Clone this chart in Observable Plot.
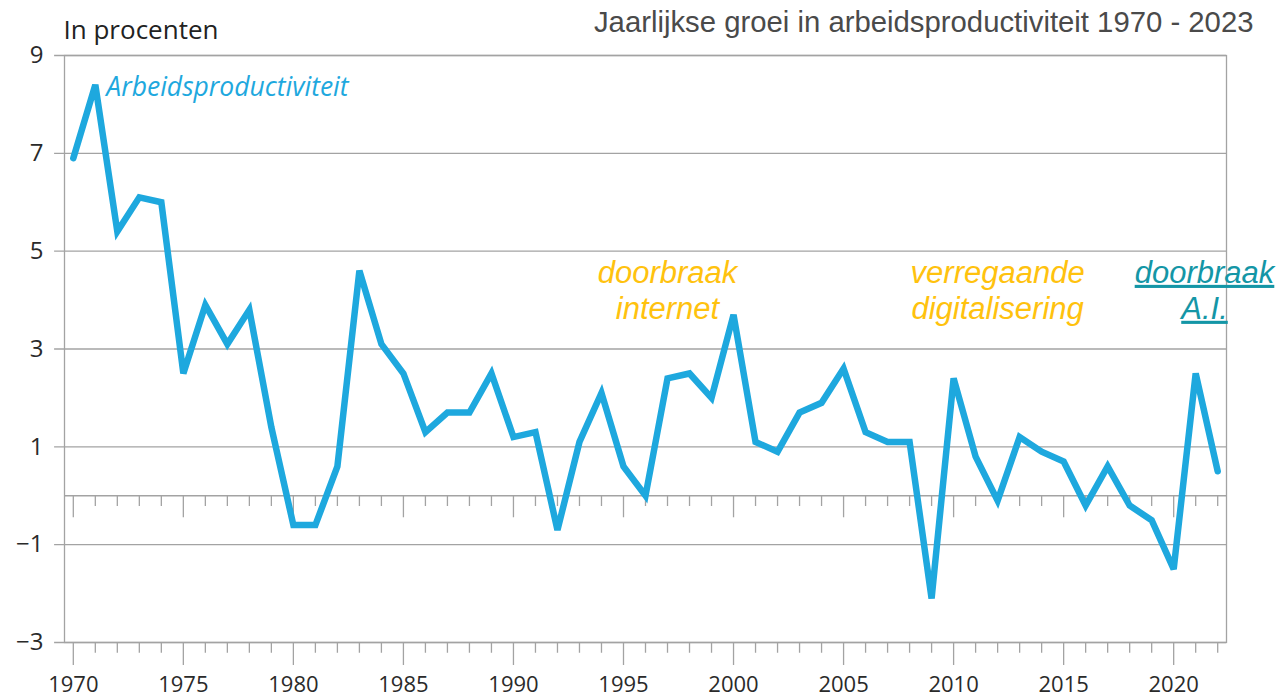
<!DOCTYPE html>
<html>
<head>
<meta charset="utf-8">
<script src="https://cdn.jsdelivr.net/npm/d3@7"></script>
<script src="https://cdn.jsdelivr.net/npm/@observablehq/plot@0.6"></script>
<style>
  html, body { margin: 0; padding: 0; background: #fff; }
  #chart { width: 1280px; height: 698px; overflow: hidden; }
</style>
</head>
<body>
<div id="chart"></div>
<script>
// ---- data ----
const years = d3.range(1970, 2023);
const growth = [
  6.9, 8.4, 5.4, 6.1, 6.0, 2.5, 3.9, 3.1, 3.8, 1.4,
  -0.6, -0.6, 0.6, 4.6, 3.1, 2.5, 1.3, 1.7, 1.7, 2.5,
  1.2, 1.3, -0.7, 1.1, 2.1, 0.6, 0.0, 2.4, 2.5, 2.0,
  3.7, 1.1, 0.9, 1.7, 1.9, 2.6, 1.3, 1.1, 1.1, -2.1,
  2.4, 0.8, -0.1, 1.2, 0.9, 0.7, -0.2, 0.6, -0.2, -0.5,
  -1.5, 2.5, 0.5
];
const yTicks = [9, 7, 5, 3, 1, -1, -3];
const xTickLabels = [1970, 1975, 1980, 1985, 1990, 1995, 2000, 2005, 2010, 2015, 2020];
const title = "Jaarlijkse groei in arbeidsproductiviteit 1970 - 2023";
const unitLabel = "In procenten";
const seriesName = "Arbeidsproductiviteit";
const annotationLabels = ["doorbraak\ninternet", "verregaande\ndigitalisering", "doorbraak\nA.I."];
const annotationYears = [1997.0, 2012.0, 2021.4];
const annotationValues = [4.22, 4.22, 4.22];

const data = years.map((year, i) => ({year, value: growth[i]}));
const annotations = annotationLabels.map((label, i) => ({label, year: annotationYears[i], value: annotationValues[i]}));

const lineColor = "#1ea8de";
const gridColor = "#a3a3a3";
const tickFont = "Open Sans, Noto Sans, sans-serif";
const arial = "Liberation Sans, Arial, sans-serif";

const plot = Plot.plot({
  width: 1280,
  height: 698,
  marginLeft: 64,
  marginRight: 54,
  marginTop: 55,
  marginBottom: 56,
  x: {domain: [1969.6, 2022.4], axis: null},
  y: {domain: [-3, 9], axis: null},
  style: {background: "#fff"},
  marks: [
    // horizontal grid lines with small stubs to the left
    Plot.ruleY(yTicks, {x1: 1969.15, x2: 2022.4, stroke: gridColor, strokeWidth: 1.3}),
    Plot.ruleY([0], {x1: 1969.6, x2: 2022.4, stroke: gridColor, strokeWidth: 1.3}),
    Plot.frame({stroke: gridColor, strokeWidth: 1.3}),
    // year ticks below the zero line
    Plot.ruleX(years, {x: d => d, y1: 0, y2: d => d % 5 === 0 ? -0.45 : -0.22, stroke: gridColor, strokeWidth: 1.3}),
    // year ticks below the frame
    Plot.ruleX(years, {x: d => d, y1: -3, y2: d => d % 5 === 0 ? -3.47 : -3.22, stroke: gridColor, strokeWidth: 1.3}),
    // y tick labels
    Plot.text(yTicks, {x: 1969.6, y: d => d, text: d => d < 0 ? "\u2212" + Math.abs(d) : String(d), textAnchor: "end", dx: -21, fontSize: 24, fill: "#2a2a2a", fontFamily: tickFont}),
    // x tick labels
    Plot.text(xTickLabels, {x: d => d, y: -3, text: d => String(d), dy: 42, fontSize: 22, fill: "#2a2a2a", fontFamily: tickFont}),
    // series
    Plot.line(data, {x: "year", y: "value", stroke: lineColor, strokeWidth: 6.5, strokeLinejoin: "miter", strokeMiterlimit: 3}),
    // series label
    Plot.text([seriesName], {x: 1971.5, y: 8.35, text: d => d, textAnchor: "start", fontSize: 26.5, fontStyle: "italic", fill: lineColor, fontFamily: tickFont}),
    // annotations
    Plot.text(annotations.slice(0, 2), {x: "year", y: "value", text: "label", fontSize: 31, fontStyle: "italic", fill: "#ffc20e", fontFamily: arial, lineHeight: 1.16}),
    Plot.text(annotations.slice(2), {x: "year", y: "value", text: "label", fontSize: 31, fontStyle: "italic", fill: "#1496a6", fontFamily: arial, lineHeight: 1.16}),
    // titles
    Plot.text([unitLabel], {frameAnchor: "top-left", lineAnchor: "middle", text: d => d, textAnchor: "start", dx: -1, dy: -25, fontSize: 26, fill: "#222", fontFamily: tickFont}),
    Plot.text([title], {frameAnchor: "top-right", lineAnchor: "middle", text: d => d, textAnchor: "end", dx: 27, dy: -33, fontSize: 29.3, fill: "#4a4a4a", fontFamily: arial})
  ]
});

d3.select(plot).selectAll("text")
  .filter(function() { return this.textContent.includes("A.I."); })
  .style("text-decoration", "underline");

document.getElementById("chart").appendChild(plot);
</script>
</body>
</html>
